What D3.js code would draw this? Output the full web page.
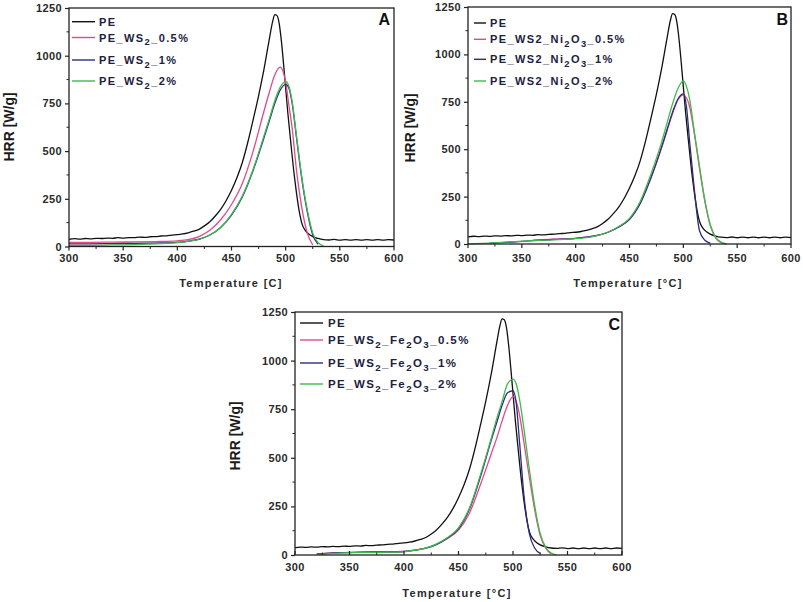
<!DOCTYPE html>
<html><head><meta charset="utf-8">
<script src="https://cdn.jsdelivr.net/npm/d3@7/dist/d3.min.js"></script>
<style>body{margin:0;background:#fff}svg{display:block}</style>
</head><body><svg id="chart" width="803" height="602"></svg>
<script>
// ---------- data ----------
const xTicks = [300, 350, 400, 450, 500, 550, 600];
const yTicks = [0, 250, 500, 750, 1000, 1250];

// neat PE (same reference curve shown in all three panels)
const tPE = [300,305,310,315,320,325,330,335,340,345,350,355,360,365,370,375,380,385,390,395,400,405,410,415,420,425,430,435,440,445,450,455,460,465,470,475,480,485,488,490,492,494,496,498,500,502,505,508,510,513,515,518,520,525,530,535,540,545,550,555,560,565,570,575,580,585,590,595,600];
const hrrPE = [38,41,39,42,40,43,42,44,43,46,44,47,46,49,48,51,52,55,56,60,62,66,72,80,90,108,130,160,195,240,295,360,440,545,665,790,930,1090,1180,1215,1210,1170,1080,960,830,700,530,370,280,170,120,85,72,52,42,36,34,37,33,36,33,36,33,36,33,36,33,36,34];

// common temperature grid for the filled samples
const tGrid = [300,320,340,360,380,400,410,420,430,440,450,460,470,480,485,490,495,500,503,506,510,515,520,525,530,535,540];

// Panel A
const hrrA_05 = [22,22,23,24,26,30,36,52,85,140,220,330,500,710,810,900,940,860,740,620,400,200,70,8,null,null,null];
const hrrA_1  = [14,14,15,16,18,22,28,38,60,100,165,260,400,570,660,750,820,850,830,750,570,350,180,60,12,null,null];
const hrrA_2  = [5,6,8,10,14,20,27,38,60,100,168,265,405,580,670,765,835,865,840,760,580,360,190,70,20,2,null];

// Panel B
const hrrB_05 = [null,null,null,20,25,30,36,45,62,90,130,215,350,510,600,690,760,785,770,720,590,400,225,100,32,8,0];
const hrrB_1  = [null,5,10,18,24,30,36,45,62,90,130,215,350,515,605,695,765,792,720,530,300,70,20,5,null,null,null];
const hrrB_2  = [0,5,12,18,22,28,34,44,62,92,135,225,370,540,640,740,820,860,830,760,600,410,230,100,35,10,0];

// Panel C
const hrrC_05 = [null,5,12,14,15,18,25,35,55,85,128,215,360,520,600,690,770,815,790,720,580,400,230,100,35,5,null];
const hrrC_1  = [null,5,12,15,16,18,25,35,55,88,135,235,400,590,680,770,835,845,780,580,310,110,35,8,null,null,null];
const hrrC_2  = [null,3,10,13,14,17,25,36,57,90,140,240,410,600,700,790,880,905,880,800,650,440,250,110,40,10,0];

const labelsA = ["PE", "PE_WS_{2}_0.5%", "PE_WS_{2}_1%", "PE_WS_{2}_2%"];
const labelsB = ["PE", "PE_WS2_Ni_{2}O_{3}_0.5%", "PE_WS2_Ni_{2}O_{3}_1%", "PE_WS2_Ni_{2}O_{3}_2%"];
const labelsC = ["PE", "PE_WS_{2}_Fe_{2}O_{3}_0.5%", "PE_WS_{2}_Fe_{2}O_{3}_1%", "PE_WS_{2}_Fe_{2}O_{3}_2%"];
const seriesColors = ["#111111", "#e2498a", "#2f2b7c", "#3dbb4c"];

// ---------- drawing ----------
const svg = d3.select("#chart");
const FONT = "'Liberation Sans', Arial, Helvetica, sans-serif";
const INK = "#222";

const panels = [
  { x0: 69, x1: 394, yb: 246.5, yt: 8, letter: "A", letterX: 390, letterY: 25,
    series: [hrrA_05, hrrA_1, hrrA_2], labels: labelsA,
    legLine: [72, 95], legText: 99, legRows: [21.7, 37.5, 60, 81], legFont: 11,
    xTitle: "Temperature [C]", xTitleX: 231, xTitleY: 287, yTitleX: 9, yTitleY: 127,
    tickLabelY: 262, xTickDir: 1 },
  { x0: 468, x1: 791, yb: 244, yt: 7, letter: "B", letterX: 788, letterY: 25,
    series: [hrrB_05, hrrB_1, hrrB_2], labels: labelsB,
    legLine: [474, 486], legText: 490, legRows: [23, 39.3, 59.3, 81], legFont: 11,
    xTitle: "Temperature [°C]", xTitleX: 628, xTitleY: 287, yTitleX: 410, yTitleY: 128,
    tickLabelY: 262, xTickDir: 1 },
  { x0: 295, x1: 622, yb: 555, yt: 312, letter: "C", letterX: 620, letterY: 330,
    series: [hrrC_05, hrrC_1, hrrC_2], labels: labelsC,
    legLine: [300, 323], legText: 328, legRows: [323, 340, 363, 384], legFont: 11.5,
    xTitle: "Temperature [°C]", xTitleX: 457, xTitleY: 597, yTitleX: 235, yTitleY: 436,
    tickLabelY: 571, xTickDir: -1 }
];

function addRichText(sel, str) {
  const parts = str.split(/(_\{[^}]*\})/).filter(s => s.length);
  let shifted = false;
  parts.forEach(p => {
    const m = p.match(/^_\{([^}]*)\}$/);
    if (m) {
      sel.append("tspan").attr("dy", shifted ? 0 : 3.5).attr("font-size", "0.85em").text(m[1]);
      shifted = true;
    } else {
      sel.append("tspan").attr("dy", shifted ? -3.5 : 0).text(p);
      shifted = false;
    }
  });
}

panels.forEach(p => {
  const x = d3.scaleLinear().domain([300, 600]).range([p.x0, p.x1]);
  const y = d3.scaleLinear().domain([0, 1250]).range([p.yb, p.yt]);
  const g = svg.append("g");

  // series
  const line = d3.line().defined(d => d[1] != null).x(d => x(d[0])).y(d => y(d[1])).curve(d3.curveMonotoneX);
  const all = [tPE.map((t, i) => [t, hrrPE[i]])].concat(p.series.map(s => tGrid.map((t, i) => [t, s[i]])));
  all.forEach((d, i) => {
    g.append("path").attr("d", line(d)).attr("fill", "none")
      .attr("stroke", seriesColors[i]).attr("stroke-width", 1.3).attr("stroke-linejoin", "round");
  });

  // frame
  g.append("rect").attr("x", p.x0).attr("y", p.yt).attr("width", p.x1 - p.x0).attr("height", p.yb - p.yt)
    .attr("fill", "none").attr("stroke", INK).attr("stroke-width", 1.3);

  // y axis
  const yAxis = d3.axisLeft(y).tickValues(yTicks).tickFormat(d3.format("d")).tickSize(4).tickPadding(3);
  const ya = g.append("g").attr("transform", `translate(${p.x0},0)`).call(yAxis);
  ya.select(".domain").remove();
  ya.selectAll(".tick line").attr("stroke", INK).attr("stroke-width", 1.2);
  ya.selectAll(".tick text").attr("font-family", FONT).attr("font-weight", "bold").attr("font-size", 11)
    .attr("fill", "#2a2a2a").attr("letter-spacing", 0.4);
  const yMinor = d3.range(125, 1250, 250);
  g.selectAll(null).data(yMinor).enter().append("line")
    .attr("x1", p.x0 - 2.5).attr("x2", p.x0).attr("y1", d => y(d)).attr("y2", d => y(d))
    .attr("stroke", INK).attr("stroke-width", 1);

  // x axis
  xTicks.forEach(v => {
    g.append("line").attr("x1", x(v)).attr("x2", x(v)).attr("y1", p.yb).attr("y2", p.yb + 4 * p.xTickDir)
      .attr("stroke", INK).attr("stroke-width", 1.2);
    g.append("text").attr("x", x(v)).attr("y", p.tickLabelY).attr("text-anchor", "middle")
      .attr("font-family", FONT).attr("font-weight", "bold").attr("font-size", 11).attr("fill", "#2a2a2a")
      .attr("letter-spacing", 0.4).text(v);
  });
  d3.range(325, 600, 50).forEach(v => {
    g.append("line").attr("x1", x(v)).attr("x2", x(v)).attr("y1", p.yb).attr("y2", p.yb + 2.5 * p.xTickDir)
      .attr("stroke", INK).attr("stroke-width", 1);
  });

  // titles
  g.append("text").attr("x", p.xTitleX).attr("y", p.xTitleY).attr("text-anchor", "middle")
    .attr("font-family", FONT).attr("font-weight", "bold").attr("font-size", 11).attr("letter-spacing", 1.3)
    .attr("fill", "#2a2a2a").text(p.xTitle);
  g.append("text").attr("transform", `translate(${p.yTitleX},${p.yTitleY}) rotate(-90)`)
    .attr("text-anchor", "middle").attr("dominant-baseline", "central")
    .attr("font-family", FONT).attr("font-weight", "bold").attr("font-size", 14)
    .attr("fill", "#1a1a1a").text("HRR [W/g]");

  // panel letter
  g.append("text").attr("x", p.letterX).attr("y", p.letterY).attr("text-anchor", "end")
    .attr("font-family", FONT).attr("font-weight", "bold").attr("font-size", 16).attr("fill", "#111").text(p.letter);

  // legend
  p.labels.forEach((lab, i) => {
    const ry = p.legRows[i];
    g.append("line").attr("x1", p.legLine[0]).attr("x2", p.legLine[1]).attr("y1", ry).attr("y2", ry)
      .attr("stroke", seriesColors[i]).attr("stroke-width", 1.4);
    const t = g.append("text").attr("x", p.legText).attr("y", ry + 4)
      .attr("font-family", FONT).attr("font-weight", "bold").attr("font-size", p.legFont)
      .attr("letter-spacing", 1.4).attr("fill", "#1c2140");
    addRichText(t, lab);
  });
});
</script>
</body></html>
